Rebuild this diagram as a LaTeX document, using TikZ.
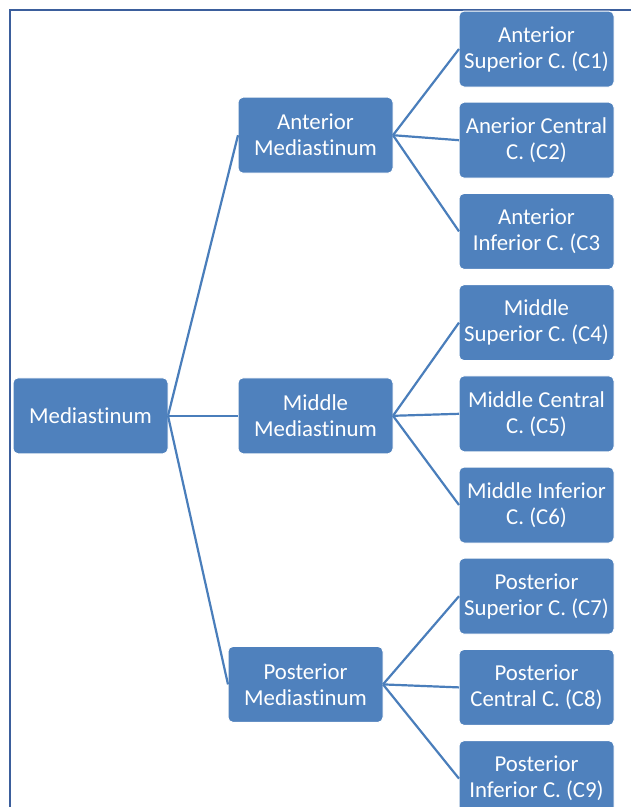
\documentclass[tikz,border=0pt]{standalone}
\usepackage{fontspec}
\setmainfont{Carlito}[Ligatures=NoCommon]
\usetikzlibrary{positioning}
\definecolor{box}{HTML}{4F81BD}
\definecolor{edge}{HTML}{4A7EBB}
\definecolor{frame}{HTML}{3B5E9C}
\tikzset{
  n/.style={draw=white, line width=1pt, fill=box, text=white, rounded corners=5pt, align=center,
    font=\fontsize{22.8}{26}\selectfont, minimum width=155pt, minimum height=76pt, inner sep=2pt, outer sep=0pt},
  a/.style={draw=edge, line width=2.2pt},
}
\begin{document}
\begin{tikzpicture}[x=1pt, y=1pt, node distance=15.2pt]
\useasboundingbox (0,0) rectangle (631,-807);
\draw[frame, line width=1.5pt] (10,-10) rectangle (660,-840);

\node[n] (c1) at (536.5,-49) {Anterior\\Superior C. (C1)};
\node[n, below=of c1] (c2) {Anerior Central\\C. (C2)};
\node[n, below=of c2] (c3) {Anterior\\Inferior C. (C3};
\node[n, below=of c3] (c4) {Middle\\Superior C. (C4)};
\node[n, below=of c4] (c5) {Middle Central\\C. (C5)};
\node[n, below=of c5] (c6) {Middle Inferior\\C. (C6)};
\node[n, below=of c6] (c7) {Posterior\\Superior C. (C7)};
\node[n, below=of c7] (c8) {Posterior\\Central C. (C8)};
\node[n, below=of c8] (c9) {Posterior\\Inferior C. (C9)};

\node[n, left=66pt of c2, yshift=5pt] (ant) {Anterior\\Mediastinum};
\node[n, left=66pt of c5, yshift=-2pt] (mid) {Middle\\Mediastinum};
\node[n, left=76pt of c8, yshift=3pt] (post) {Posterior\\Mediastinum};
\node[n, left=70pt of mid] (root) {Mediastinum};

\draw[a] (root.east) -- (ant.west);
\draw[a] (root.east) -- (mid.west);
\draw[a] (root.east) -- (post.west);
\draw[a] (ant.east) -- (c1.west);
\draw[a] (ant.east) -- (c2.west);
\draw[a] (ant.east) -- (c3.west);
\draw[a] (mid.east) -- (c4.west);
\draw[a] (mid.east) -- (c5.west);
\draw[a] (mid.east) -- (c6.west);
\draw[a] (post.east) -- (c7.west);
\draw[a] (post.east) -- (c8.west);
\draw[a] (post.east) -- (c9.west);
\end{tikzpicture}
\end{document}
